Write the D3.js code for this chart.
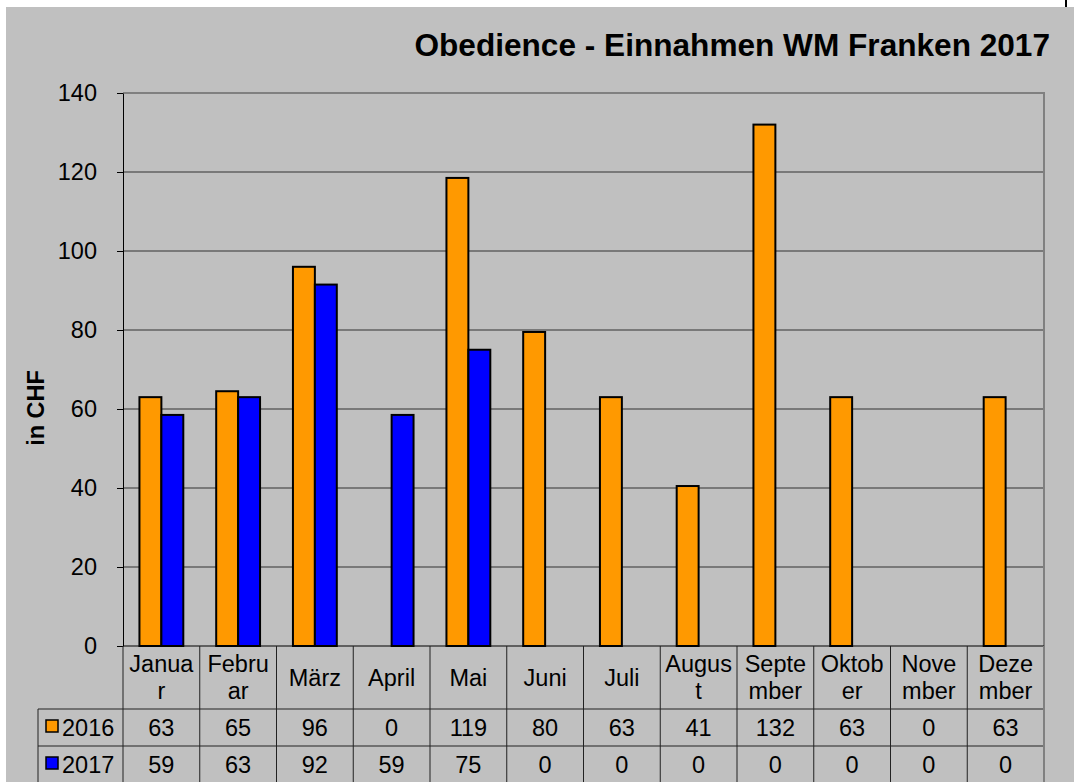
<!DOCTYPE html>
<html>
<head>
<meta charset="UTF-8">
<title>Obedience - Einnahmen WM Franken 2017</title>
<script src="https://cdn.jsdelivr.net/npm/d3@7"></script>
<style>
  body { margin: 0; background: #fff; }
  svg text { font-family: "Liberation Sans", Arial, sans-serif; fill: #000; }
</style>
</head>
<body>
<div id="chart"></div>
<script>
// data
const months = ["Januar", "Februar", "März", "April", "Mai", "Juni", "Juli", "August", "September", "Oktober", "November", "Dezember"];
const monthLines = [["Janua", "r"], ["Febru", "ar"], ["März"], ["April"], ["Mai"], ["Juni"], ["Juli"], ["Augus", "t"], ["Septe", "mber"], ["Oktob", "er"], ["Nove", "mber"], ["Deze", "mber"]];
const seriesNames = ["2016", "2017"];
const values2016 = [63, 64.5, 96, 0, 118.5, 79.5, 63, 40.5, 132, 63, 0, 63];
const values2017 = [58.5, 63, 91.5, 58.5, 75, 0, 0, 0, 0, 0, 0, 0];
const yTicks = [0, 20, 40, 60, 80, 100, 120, 140];
const colors = ["#FF9900", "#0000FF"];

const W = 1074, H = 782;
const plot = { left: 123, right: 1044, top: 93, bottom: 646 };
const rowH = 37;
const fontSize = 23.5;

const svg = d3.select("#chart").append("svg")
    .attr("width", W)
    .attr("height", H);

// grey background with the white edge on top/left
svg.append("rect")
    .attr("x", 6).attr("y", 7)
    .attr("width", W - 6).attr("height", H - 7)
    .attr("fill", "#c0c0c0");
svg.append("line")
    .attr("x1", 1066).attr("x2", 1066).attr("y1", 0).attr("y2", 7)
    .attr("stroke", "#000").attr("stroke-width", 2);

const x0 = d3.scaleBand().domain(months).range([plot.left, plot.right]);
const x1 = d3.scaleBand().domain(seriesNames).range([0, x0.bandwidth()]).paddingOuter(0.75);
const y = d3.scaleLinear().domain([0, 140]).range([plot.bottom, plot.top]);

// gridlines
svg.append("g")
    .selectAll("line")
    .data(yTicks.filter(d => d > 0 && d < 140))
    .join("line")
    .attr("x1", plot.left).attr("x2", plot.right)
    .attr("y1", d => y(d)).attr("y2", d => y(d))
    .attr("stroke", "#333").attr("stroke-width", 1);

// plot border top/right
svg.append("path")
    .attr("d", `M${plot.left},${y(140)}H${plot.right}V${plot.bottom}`)
    .attr("fill", "none").attr("stroke", "#808080").attr("stroke-width", 2);

// bars
const series = [values2016, values2017];
const groups = svg.append("g")
    .selectAll("g")
    .data(seriesNames)
    .join("g")
    .attr("fill", (d, i) => colors[i]);

groups.selectAll("rect")
    .data((s, si) => series[si].map((v, i) => ({ month: months[i], s: s, v: v })).filter(d => d.v > 0))
    .join("rect")
    .attr("x", d => x0(d.month) + x1(d.s))
    .attr("width", x1.bandwidth())
    .attr("y", d => y(d.v))
    .attr("height", d => y(0) - y(d.v))
    .attr("stroke", "#000")
    .attr("stroke-width", 2);

// y axis
const yAxis = d3.axisLeft(y).tickValues(yTicks).tickSize(6).tickSizeOuter(0).tickPadding(20);
const ya = svg.append("g")
    .attr("transform", `translate(${plot.left},0)`)
    .call(yAxis);
ya.select(".domain").attr("stroke", "#000");
ya.selectAll(".tick line").attr("stroke", "#000");
ya.selectAll("text")
    .attr("font-size", fontSize)
    .style("font-family", '"Liberation Sans", Arial, sans-serif')
    .attr("fill", "#000");

// baseline
svg.append("line")
    .attr("x1", plot.left).attr("x2", plot.right)
    .attr("y1", plot.bottom).attr("y2", plot.bottom)
    .attr("stroke", "#000");

// y axis title
svg.append("text")
    .attr("transform", "translate(44,408) rotate(-90)")
    .attr("text-anchor", "middle")
    .attr("font-size", fontSize)
    .attr("font-weight", "bold")
    .text("in CHF");

// chart title
svg.append("text")
    .attr("x", 1050).attr("y", 56)
    .attr("text-anchor", "end")
    .attr("font-size", 31.6)
    .attr("font-weight", "bold")
    .text("Obedience - Einnahmen WM Franken 2017");

// data table
const table = svg.append("g");
const headTop = plot.bottom, row1 = headTop + 63, row2 = row1 + rowH;
const legendLeft = 38;

// horizontal lines
[row1, row2].forEach(yy => {
    table.append("line")
        .attr("x1", legendLeft).attr("x2", plot.right)
        .attr("y1", yy).attr("y2", yy)
        .attr("stroke", "#222");
});
// vertical lines
const edges = months.map(m => x0(m)).concat([plot.right]);
table.selectAll("line.v")
    .data(edges)
    .join("line")
    .attr("class", "v")
    .attr("x1", d => d).attr("x2", d => d)
    .attr("y1", headTop).attr("y2", H)
    .attr("stroke", (d, i) => i === edges.length - 1 ? "#808080" : "#222")
    .attr("stroke-width", (d, i) => i === edges.length - 1 ? 2 : 1);
table.append("line")
    .attr("x1", legendLeft).attr("x2", legendLeft)
    .attr("y1", row1).attr("y2", H)
    .attr("stroke", "#222");

// month labels
const cx = m => x0(m) + x0.bandwidth() / 2;
table.selectAll("text.month")
    .data(months)
    .join("text")
    .attr("class", "month")
    .attr("x", d => cx(d))
    .attr("text-anchor", "middle")
    .attr("font-size", fontSize)
    .each(function (d, i) {
        const lines = monthLines[i];
        const t = d3.select(this);
        const base = lines.length === 1 ? 686 : 672;
        lines.forEach((l, k) => {
            t.append("tspan").attr("x", cx(d)).attr("y", base + k * 27).text(l);
        });
    });

// value rows (table shows values rounded)
[row1, row2].forEach((top, si) => {
    table.selectAll("text.val" + si)
        .data(series[si])
        .join("text")
        .attr("class", "val" + si)
        .attr("x", (d, i) => cx(months[i]))
        .attr("y", top + rowH / 2 + 8.5)
        .attr("text-anchor", "middle")
        .attr("font-size", fontSize)
        .text(d => Math.round(d));

    table.append("rect")
        .attr("x", 46).attr("y", top + 11)
        .attr("width", 12).attr("height", 12)
        .attr("fill", colors[si])
        .attr("stroke", "#000").attr("stroke-width", 1.5);
    table.append("text")
        .attr("x", 62).attr("y", top + rowH / 2 + 8.5)
        .attr("font-size", fontSize)
        .text(seriesNames[si]);
});
</script>
</body>
</html>
